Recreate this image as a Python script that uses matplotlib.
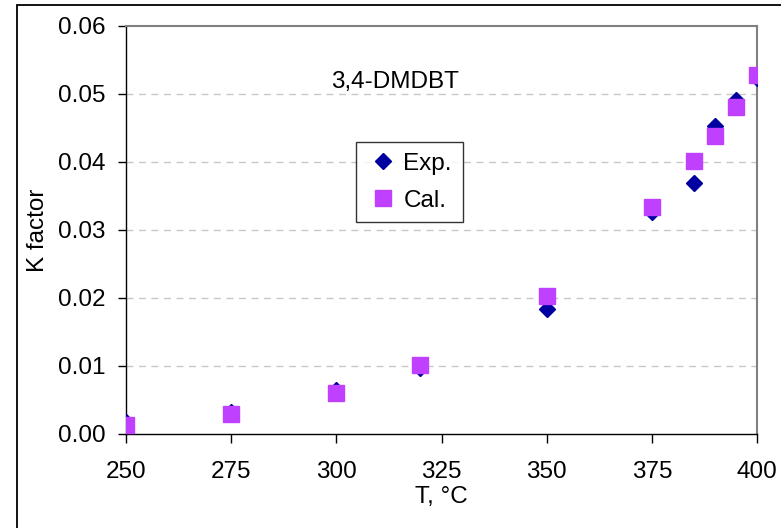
import matplotlib.pyplot as plt
from matplotlib.patches import Rectangle

plt.rcParams['font.family'] = ['Liberation Sans', 'DejaVu Sans']

# temperatures, deg C
temps = [250, 275, 300, 320, 350, 375, 385, 390, 395, 400]
# K factor for 3,4-DMDBT
k_exp = [0.0017, 0.0033, 0.0065, 0.0097, 0.0184, 0.0327, 0.0369, 0.0453, 0.0491, 0.0523]
k_cal = [0.0013, 0.0029, 0.0060, 0.0101, 0.0203, 0.0334, 0.0401, 0.0438, 0.0481, 0.0528]

xticks = [250, 275, 300, 325, 350, 375, 400]
yticks = [0.00, 0.01, 0.02, 0.03, 0.04, 0.05, 0.06]

fs = 17.5

fig = plt.figure(figsize=(7.81, 5.28), dpi=100)
ax = fig.add_axes([126 / 781, 1 - 434 / 528, (757 - 126) / 781, (434 - 26) / 528])

# outer chart frame (runs off the right/bottom edge)
fig.patches.append(Rectangle((17 / 781, -0.05), 1.2, 1 - 5 / 528 + 0.05,
                             transform=fig.transFigure, fill=False,
                             edgecolor='black', linewidth=1.3))

for v in yticks[1:-1]:
    ax.axhline(v, color='#c8c8c8', linestyle=(0, (5, 4)), linewidth=1.0, zorder=0)

ax.plot(temps, k_exp, linestyle='none', marker='D', markersize=8.5,
        color='#0000a0', label='Exp.', zorder=3)
ax.plot(temps, k_cal, linestyle='none', marker='s', markersize=11.5,
        color='#c040ff', label='Cal.', zorder=4)

ax.set_xlim(250, 400)
ax.set_ylim(0, 0.06)
ax.set_xticks(xticks)
ax.set_yticks(yticks)
ax.set_yticklabels(['%.2f' % v for v in yticks])
ax.tick_params(axis='both', direction='out', width=1, labelsize=fs)
ax.tick_params(axis='y', length=6, pad=9)
ax.tick_params(axis='x', length=6.5, pad=13)

for s in ['top', 'right']:
    ax.spines[s].set_color('#808080')
    ax.spines[s].set_linewidth(1.5)
for s in ['left', 'bottom']:
    ax.spines[s].set_color('black')
    ax.spines[s].set_linewidth(1.0)

ax.set_xlabel('T, °C', fontsize=fs, labelpad=2)
ax.set_ylabel('K factor', fontsize=fs, labelpad=6)

ax.text(314, 0.0517, '3,4-DMDBT', fontsize=fs, ha='center', va='center')

leg = ax.legend(loc='upper left', bbox_to_anchor=((356 - 126) / 631, 1 - (142 - 26) / 408),
                fontsize=fs, frameon=True, fancybox=False, borderpad=0.45,
                handletextpad=0.2, handlelength=1.3, borderaxespad=0, labelspacing=0.6)
leg.get_frame().set_edgecolor('black')
leg.get_frame().set_linewidth(1.0)

fig.savefig('out.png', dpi=100)
